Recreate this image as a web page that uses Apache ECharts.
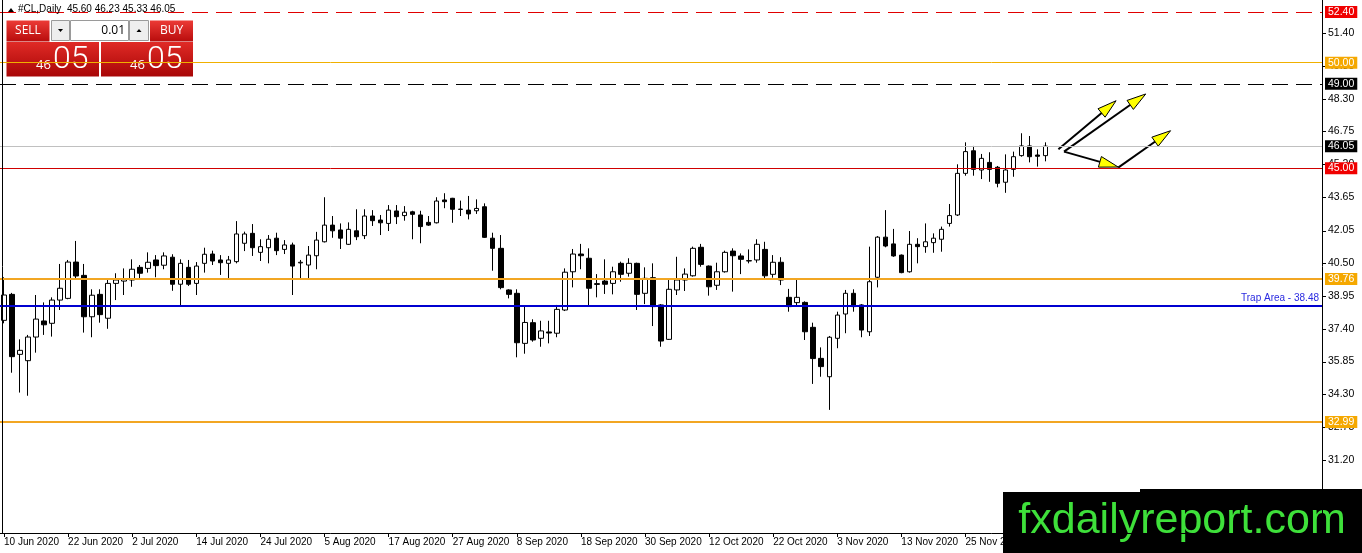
<!DOCTYPE html>
<html><head><meta charset="utf-8">
<script src="https://cdn.jsdelivr.net/npm/echarts@6/dist/echarts.min.js"></script>
<style>html,body{margin:0;padding:0;background:#fff}#c{width:1362px;height:553px}</style>
</head><body><div id="c"></div>
<script>
// ---- categories (daily bars) ----
const junDays = [10,11,12,15,16,17,18,19,22,23,24,25,26,29,30];
const julDays = [1,2,3,6,7,8,9,10,13,14,15,16,17,20,21,22,23,24,27,28,29,30,31];
const augDays = [3,4,5,6,7,10,11,12,13,14,17,18,19,20,21,24,25,26,27,28,31];
const sepDays = [1,2,3,4,7,8,9,10,11,14,15,16,17,18,21,22,23,24,25,28,29,30];
const octDays = [1,2,5,6,7,8,9,12,13,14,15,16,19,20,21,22,23,26,27,28,29,30];
const novDays = [2,3,4,5,6,9,10,11,12,13,16,17,18,19,20,23,24,25,26,27,30];
const decDays = [1,2,3,4,7,8,9];
const futureSlots = 34;

// ---- OHLC values ----
const opens = [37.80,39.03,36.19,35.89,37.01,37.77,37.66,38.76,38.84,40.56,
39.93,37.97,39.03,37.90,39.55,39.66,39.71,40.31,40.26,40.66,
40.41,40.79,39.51,40.31,39.55,40.50,40.94,40.66,40.50,40.58,
41.45,41.92,41.02,41.24,41.69,41.16,41.37,40.52,40.42,40.86,
41.52,42.31,42.08,41.40,42.04,41.81,42.74,42.55,42.39,42.98,
42.76,42.94,42.79,42.44,42.42,43.50,43.58,43.05,43.02,42.99,
43.18,41.69,41.21,39.24,39.08,36.71,37.69,36.95,37.25,37.19,
38.29,40.10,40.94,40.74,39.50,39.66,39.55,40.50,40.03,40.50,
39.08,39.82,38.53,36.90,39.24,39.71,39.91,41.26,40.37,39.46,
40.10,41.08,40.85,40.61,40.66,41.16,39.98,40.55,38.89,38.64,
38.65,37.47,36.00,35.13,36.95,38.10,39.08,38.53,37.26,39.84,
41.74,41.42,40.89,40.10,41.40,41.29,41.48,41.64,42.39,42.79,
44.76,45.83,44.92,45.28,45.05,44.34,44.95,45.60,46.06,45.63,45.60];
const highs = [39.84,39.10,36.90,37.11,39.00,38.65,38.89,40.47,40.66,41.56,
40.47,39.27,39.27,39.77,40.03,40.26,40.69,40.42,41.02,40.89,
41.02,40.93,40.69,40.66,40.56,41.24,41.10,40.89,40.85,42.50,
42.00,42.36,41.64,41.84,41.95,41.60,41.48,40.66,41.32,41.99,
43.63,42.74,42.39,42.44,43.06,43.06,43.02,42.79,43.26,43.26,
43.21,42.99,42.99,42.74,43.63,43.82,43.60,43.47,43.69,43.53,
43.34,41.95,41.84,39.27,39.27,38.45,37.85,37.78,37.78,38.53,
40.26,41.18,41.42,41.21,39.99,40.69,40.34,40.58,40.74,40.53,
40.31,40.50,38.57,39.71,40.81,40.26,41.29,41.42,40.40,40.53,
41.10,41.21,40.97,41.16,41.64,41.52,40.89,40.79,39.29,39.71,
38.70,37.69,36.52,37.06,38.21,39.24,39.27,38.57,41.29,41.79,
43.02,42.13,40.92,42.03,41.69,42.39,41.92,42.24,43.31,45.19,
46.23,46.06,45.68,45.76,45.11,45.66,45.79,46.66,46.53,45.90,46.23];
const lows = [37.66,35.32,34.38,34.23,36.27,37.11,37.03,38.29,38.80,39.74,
37.22,37.00,37.69,37.40,38.76,39.00,39.39,39.74,40.06,39.84,
40.22,39.20,38.45,39.43,39.00,40.06,40.42,39.95,39.74,40.50,
41.08,40.85,40.61,40.50,40.89,40.94,39.00,39.74,39.74,40.22,
41.49,41.71,41.18,41.37,41.60,41.65,42.27,41.84,42.03,42.36,
42.52,41.64,41.45,42.27,42.39,43.11,42.42,42.74,42.58,42.84,
41.70,40.15,39.27,38.84,36.05,36.22,36.79,36.55,36.71,37.00,
38.24,39.36,40.22,38.45,38.89,39.05,39.03,39.63,39.87,38.29,
38.57,37.53,36.55,36.87,39.00,39.19,39.87,40.34,38.97,39.24,
40.06,39.16,39.99,40.50,40.53,39.76,39.82,39.47,38.21,38.45,
36.87,34.79,35.13,33.56,36.48,37.19,38.21,37.00,37.06,39.36,
41.26,40.81,40.03,40.06,40.50,41.00,41.00,41.05,42.24,42.74,
44.65,44.65,44.49,44.36,44.10,43.84,44.60,45.55,45.28,45.08,45.33];
const closes = [39.00,36.08,36.38,37.01,37.86,37.59,38.76,39.32,40.56,39.90,
37.97,38.99,38.07,39.55,39.71,39.77,40.22,40.03,40.55,40.39,
40.85,39.51,40.50,39.51,40.37,40.93,40.61,40.53,40.66,41.89,
41.89,41.24,41.29,41.64,41.10,41.37,40.37,40.55,40.89,41.60,
42.31,42.04,41.69,42.11,41.76,42.74,42.52,42.42,43.02,42.71,
42.92,42.82,42.24,42.31,43.45,43.42,43.06,43.07,42.84,43.10,
41.73,41.21,39.35,39.03,36.74,37.70,36.87,37.30,37.20,38.32,
40.08,40.94,40.86,39.32,39.54,39.51,40.10,39.98,40.50,39.03,
39.79,38.45,36.82,39.27,39.71,39.99,41.21,40.45,39.39,40.10,
41.02,40.86,40.69,40.63,41.40,39.91,40.55,39.71,38.45,38.89,
37.26,35.99,35.61,37.00,38.05,39.08,38.45,37.34,39.63,41.74,
41.32,40.85,40.06,41.40,41.29,41.52,41.69,42.11,42.76,44.76,
45.79,44.95,45.47,44.95,44.29,44.92,45.55,46.06,45.55,45.57,46.05];

// ---- axis ticks & levels ----
const yTicks = [31.20,32.75,34.30,35.85,37.40,38.95,40.50,42.05,43.65,45.20,46.75,48.30,49.85,51.40];
const yMin = 27.73, yMax = 52.97;
const labelEvery = 8;
const levelRed = 52.40, levelGold = 50.00, levelBlack = 49.00, levelBid = 46.05,
      levelSupport = 45.00, levelOrangeHi = 39.76, levelTrap = 38.48, levelOrangeLo = 32.99;
// arrows: [fromBar, fromPrice, toBar, toPrice]
const arrows = [
  [131.6, 45.90, 138.8, 48.20],
  [132.3, 45.79, 142.5, 48.52],
  [132.3, 45.79, 139.06, 45.06],
  [139.06, 45.03, 145.6, 46.78]
];
const header = '#CL,Daily  45.60 46.23 45.33 46.05';

// ---- build ----
const dates = [];
[['Jun',junDays],['Jul',julDays],['Aug',augDays],['Sep',sepDays],['Oct',octDays],['Nov',novDays],['Dec',decDays]]
  .forEach(([m, ds]) => ds.forEach(d => dates.push(d + ' ' + m + ' 2020')));
const cats = dates.concat(new Array(futureSlots).fill(''));
const candles = opens.map((o, i) => [o, closes[i], lows[i], highs[i]]);

const FONT = 'Liberation Sans';
function lvl(v, color, width, type, bg) {
  return {
    yAxis: v,
    lineStyle: { color: color, width: width, type: type },
    label: { show: true, position: 'end', distance: 3, formatter: v.toFixed(2),
      backgroundColor: bg, color: '#fff', padding: [1, 3, 0, 3], lineHeight: 11,
      fontSize: 10.5, fontFamily: FONT }
  };
}
const redGrad = { type: 'linear', x: 0, y: 0, x2: 0, y2: 1,
  colorStops: [{ offset: 0, color: '#ec3b36' }, { offset: 1, color: '#b80c0c' }] };
const bigGrad = { type: 'linear', x: 0, y: 0, x2: 0, y2: 1,
  colorStops: [{ offset: 0, color: '#e02a26' }, { offset: 1, color: '#a80606' }] };

const baseGraphic = [
  { type: 'line', z: 50, shape: { x1: 2.5, y1: 0, x2: 2.5, y2: 533 }, style: { stroke: '#000', lineWidth: 1 } },
  // header
  { type: 'polygon', z: 60, shape: { points: [[8, 12], [14, 12], [11, 8]] }, style: { fill: '#000' } },
  { type: 'text', z: 60, left: 18, top: 4, style: { text: header, fill: '#000', font: '10px "Liberation Sans"' } },
  // trading panel
  { type: 'group', z: 60, children: [
    { type: 'rect', shape: { x: 3, y: 18, width: 193, height: 61 }, style: { fill: '#fff' } },
    { type: 'rect', shape: { x: 6.5, y: 20.5, width: 43, height: 21 }, style: { fill: redGrad } },
    { type: 'text', style: { x: 28, y: 31, text: 'SELL', fill: '#fff', font: '12px "Open Sans"', align: 'center', verticalAlign: 'middle' } },
    { type: 'rect', shape: { x: 51.5, y: 20.5, width: 18, height: 20 }, style: { fill: '#eeeeee', stroke: '#9a9a9a', lineWidth: 1 } },
    { type: 'polygon', shape: { points: [[58, 29], [63, 29], [60.5, 32]] }, style: { fill: '#000' } },
    { type: 'rect', shape: { x: 70.5, y: 20.5, width: 58, height: 20 }, style: { fill: '#fff', stroke: '#9a9a9a', lineWidth: 1 } },
    { type: 'text', style: { x: 125, y: 31, text: '0.01', fill: '#000', font: '12px "Open Sans"', align: 'right', verticalAlign: 'middle' } },
    { type: 'rect', shape: { x: 129.5, y: 20.5, width: 19, height: 20 }, style: { fill: '#eeeeee', stroke: '#9a9a9a', lineWidth: 1 } },
    { type: 'polygon', shape: { points: [[136.5, 32], [141.5, 32], [139, 29]] }, style: { fill: '#000' } },
    { type: 'rect', shape: { x: 150, y: 20.5, width: 43, height: 21 }, style: { fill: redGrad } },
    { type: 'text', style: { x: 171.5, y: 31, text: 'BUY', fill: '#fff', font: '12px "Open Sans"', align: 'center', verticalAlign: 'middle' } },
    { type: 'rect', shape: { x: 6.5, y: 42, width: 92.5, height: 34.5 }, style: { fill: bigGrad } },
    { type: 'rect', shape: { x: 101, y: 42, width: 92, height: 34.5 }, style: { fill: bigGrad } },
    { type: 'text', style: { x: 36, y: 72, text: '46', fill: '#fff', font: '13px "Open Sans"', verticalAlign: 'bottom' } },
    { type: 'text', style: { x: 53, y: 76, text: '05', fill: '#fff', font: '300 32px Roboto', verticalAlign: 'bottom' } },
    { type: 'text', style: { x: 130, y: 72, text: '46', fill: '#fff', font: '13px "Open Sans"', verticalAlign: 'bottom' } },
    { type: 'text', style: { x: 147, y: 76, text: '05', fill: '#fff', font: '300 32px Roboto', verticalAlign: 'bottom' } }
  ]},
  // watermark
  { type: 'group', z: 100, children: [
    { type: 'rect', shape: { x: 1003, y: 492, width: 359, height: 61 }, style: { fill: '#000' } },
    { type: 'rect', shape: { x: 1140, y: 489, width: 222, height: 4 }, style: { fill: '#000' } },
    { type: 'text', style: { x: 1182, y: 521, text: 'fxdailyreport.com', fill: '#3ee03a', font: '43px "Liberation Sans"', align: 'center', verticalAlign: 'middle' } }
  ]}
];

const chart = echarts.init(document.getElementById('c'));
chart.setOption({
  animation: false,
  backgroundColor: '#fff',
  grid: { left: 0, right: 40, top: 0, bottom: 20 },
  xAxis: [{
    type: 'category', data: cats, boundaryGap: true,
    axisLine: { show: true, onZero: false, lineStyle: { color: '#000', width: 1 } },
    axisTick: { show: true, alignWithLabel: true, length: 4, lineStyle: { color: '#000' },
      interval: (i) => i % labelEvery === 0 && i < dates.length },
    axisLabel: { interval: (i) => i % labelEvery === 0 && i < dates.length, align: 'left',
      color: '#000', fontSize: 10, fontFamily: FONT, margin: 4 },
    splitLine: { show: false }
  }, {
    type: 'value', min: -0.5, max: cats.length - 0.5, show: false
  }],
  yAxis: {
    type: 'value', position: 'right', min: yMin, max: yMax, scale: true,
    axisLine: { show: true, onZero: false, lineStyle: { color: '#000', width: 1 } },
    axisTick: { show: false },
    axisLabel: { color: '#000', fontSize: 10.5, fontFamily: FONT, margin: 6,
      customValues: yTicks, formatter: (v) => v.toFixed(2) },
    splitLine: { show: false },
    minorTick: { show: false }, minorSplitLine: { show: false }
  },
  series: [{
    type: 'candlestick', data: candles, barWidth: 5,
    itemStyle: { color: '#fff', color0: '#000', borderColor: '#000', borderColor0: '#000', borderWidth: 1 },
    markLine: {
      silent: true, symbol: ['none', 'none'], animation: false,
      data: [
        lvl(levelRed, '#e00000', 1, [16, 8], '#f00000'),
        lvl(levelGold, '#f0b000', 1, 'solid', '#f5a800'),
        lvl(levelBlack, '#000', 1, [16, 8], '#000'),
        lvl(levelBid, '#c0c0c0', 1, 'solid', '#000'),
        lvl(levelSupport, '#d00000', 1, 'solid', '#f00000'),
        lvl(levelOrangeHi, '#f2a623', 2, 'solid', '#f5a800'),
        lvl(levelOrangeLo, '#f2a623', 2, 'solid', '#f5a800'),
        { yAxis: levelTrap, lineStyle: { color: '#0000d0', width: 2, type: 'solid' },
          label: { show: true, position: 'insideEndTop', distance: 3, formatter: 'Trap Area - ' + levelTrap.toFixed(2),
            color: '#2a2ae0', fontSize: 10, fontFamily: FONT, padding: 0 } }
      ]
    }
  }, {
    type: 'custom', xAxisIndex: 1, yAxisIndex: 0, clip: false, silent: true,
    data: arrows,
    encode: { x: [0, 2], y: [1, 3] },
    renderItem: function (params, api) {
      const a = api.coord([api.value(0), api.value(1)]);
      const b = api.coord([api.value(2), api.value(3)]);
      const dx = b[0] - a[0], dy = b[1] - a[1];
      const L = Math.hypot(dx, dy), ux = dx / L, uy = dy / L;
      const hl = 19, hw = 5.5;
      const base = [b[0] - ux * hl, b[1] - uy * hl];
      const p1 = [base[0] - uy * hw, base[1] + ux * hw];
      const p2 = [base[0] + uy * hw, base[1] - ux * hw];
      return { type: 'group', children: [
        { type: 'line', shape: { x1: a[0], y1: a[1], x2: base[0] + ux * 2, y2: base[1] + uy * 2 },
          style: { stroke: '#000', lineWidth: 2 } },
        { type: 'polygon', shape: { points: [b, p1, p2] },
          style: { fill: '#ffff00', stroke: '#000', lineWidth: 1 } }
      ]};
    }
  }],
  graphic: baseGraphic
});

// y-axis tick marks, positioned through the axis scale
const axisX = chart.convertToPixel({ xAxisIndex: 1 }, cats.length - 0.5);
const tickMarks = yTicks.map(v => {
  const y = Math.round(chart.convertToPixel({ yAxisIndex: 0 }, v)) + 0.5;
  return { type: 'line', shape: { x1: axisX, y1: y, x2: axisX + 4, y2: y }, style: { stroke: '#000', lineWidth: 1 } };
});
chart.setOption({ graphic: baseGraphic.concat([{ type: 'group', z: 5, children: tickMarks }]) });
</script>
</body></html>
